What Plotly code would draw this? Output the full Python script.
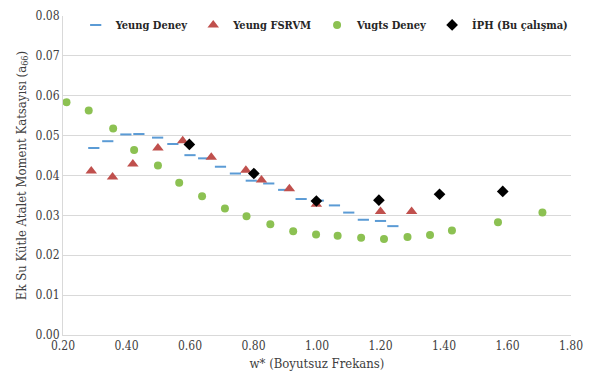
import plotly.graph_objects as go

# Yeung Deney (experiment, blue dashes)
yd_x = [0.297, 0.341, 0.398, 0.439, 0.498, 0.546, 0.600, 0.643, 0.696, 0.743, 0.793,
        0.848, 0.895, 0.950, 1.004, 1.055, 1.100, 1.146, 1.200, 1.239]
yd_y = [0.0469, 0.0486, 0.0503, 0.0504, 0.0495, 0.0479, 0.0451, 0.0443, 0.0422, 0.0405,
        0.0387, 0.0380, 0.0364, 0.0341, 0.0337, 0.0325, 0.0307, 0.0289, 0.0286, 0.0273]

# Yeung FSRVM (red triangles)
yf_x = [0.289, 0.356, 0.420, 0.499, 0.577, 0.667, 0.776, 0.825, 0.913, 0.998, 1.200, 1.298]
yf_y = [0.0411, 0.0396, 0.0429, 0.0469, 0.0487, 0.0446, 0.0413, 0.0389, 0.0367, 0.0328,
        0.0310, 0.0310]

# Vugts Deney (green circles)
vd_x = [0.211, 0.281, 0.358, 0.424, 0.499, 0.566, 0.638, 0.710, 0.778, 0.853, 0.925,
        0.997, 1.065, 1.139, 1.211, 1.285, 1.356, 1.425, 1.570, 1.710]
vd_y = [0.0584, 0.0563, 0.0518, 0.0464, 0.0425, 0.0382, 0.0348, 0.0317, 0.0298, 0.0278,
        0.0260, 0.0252, 0.0249, 0.0244, 0.0241, 0.0246, 0.0251, 0.0262, 0.0283, 0.0307]

# IPH (Bu calisma) (black diamonds)
ip_x = [0.598, 0.801, 0.998, 1.195, 1.386, 1.585]
ip_y = [0.0478, 0.0405, 0.0336, 0.0338, 0.0353, 0.0360]

x_ticks = [0.2, 0.4, 0.6, 0.8, 1.0, 1.2, 1.4, 1.6, 1.8]
y_ticks = [0.00, 0.01, 0.02, 0.03, 0.04, 0.05, 0.06, 0.07, 0.08]

serif = "DejaVu Serif Condensed, DejaVu Serif"

fig = go.Figure()
fig.add_trace(go.Scatter(x=yd_x, y=yd_y, mode="markers", name="Yeung Deney",
                         marker=dict(symbol="line-ew", size=8,
                                     line=dict(width=2, color="#5B9BD5"), color="#5B9BD5")))
fig.add_trace(go.Scatter(x=yf_x, y=yf_y, mode="markers", name="Yeung FSRVM",
                         marker=dict(symbol="triangle-up", size=10, color="#C0504D")))
fig.add_trace(go.Scatter(x=vd_x, y=vd_y, mode="markers", name="Vugts Deney",
                         marker=dict(symbol="circle", size=8, color="#8CC152")))
fig.add_trace(go.Scatter(x=ip_x, y=ip_y, mode="markers", name="İPH (Bu çalışma)",
                         marker=dict(symbol="diamond", size=9, color="#000000")))

fig.update_layout(
    width=592, height=384,
    margin=dict(l=63, r=14, t=9, b=49),
    paper_bgcolor="white", plot_bgcolor="white",
    font=dict(family=serif, size=12, color="#404040"),
    legend=dict(orientation="h", x=0.025, xanchor="left", y=0.972, yanchor="middle",
                font=dict(family=serif, size=11, color="#262626", weight="bold"),
                itemwidth=30, bgcolor="rgba(0,0,0,0)", tracegroupgap=0),
    xaxis=dict(range=[0.2, 1.8], tickvals=x_ticks,
               ticktext=[f"{v:.2f}" for v in x_ticks],
               showgrid=False, zeroline=False, showline=True, linecolor="#D9D9D9",
               linewidth=1, ticks="", tickfont=dict(family=serif, size=12, color="#404040"),
               title=dict(text="w* (Boyutsuz Frekans)",
                          font=dict(family=serif, size=13, color="#404040"),
                          standoff=6)),
    yaxis=dict(range=[0, 0.08], tickvals=y_ticks,
               ticktext=[f"{v:.2f}" for v in y_ticks],
               showgrid=True, gridcolor="#D9D9D9", gridwidth=1, zeroline=False,
               showline=True, linecolor="#D9D9D9", linewidth=1, ticks="",
               tickfont=dict(family=serif, size=12, color="#404040"),
               title=dict(text="Ek Su Kütle Atalet Moment Katsayısı (a<sub>66</sub>)",
                          font=dict(family=serif, size=13, color="#404040"), standoff=6)),
)

fig.write_html("out.html")
